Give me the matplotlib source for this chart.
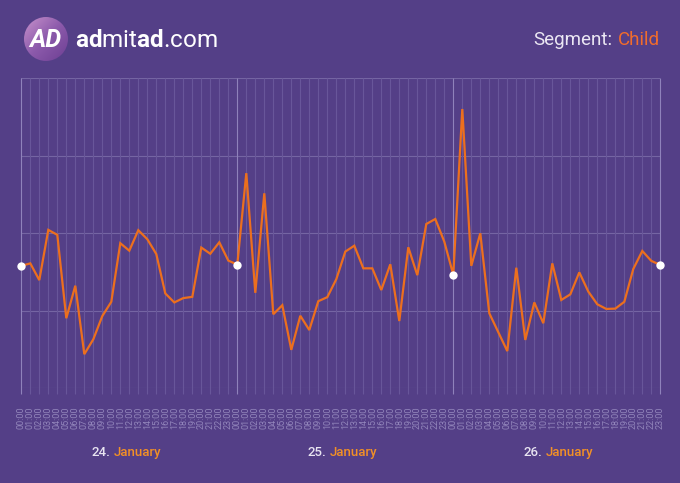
import numpy as np
import matplotlib
matplotlib.use('Agg')
import matplotlib.pyplot as plt
from matplotlib.patches import Circle

W, H = 680, 483
BG = '#543f87'
ORANGE = '#ec6f1e'
plt.rcParams['font.family'] = ['Roboto', 'DejaVu Sans']
plt.rcParams['mathtext.fontset'] = 'custom'
plt.rcParams['mathtext.rm'] = 'Roboto'
plt.rcParams['mathtext.bf'] = 'Roboto:bold'

# hourly values, 24-26 January (arbitrary units, 0..100 axis)
values = [39.5, 40.3, 34.9, 51.1, 49.5, 22.6, 33.1, 11.0, 15.8, 23.3, 27.9, 46.8,
          44.4, 51.0, 48.1, 43.3, 30.6, 27.7, 29.1, 29.5, 45.4, 43.4, 47.1, 41.2,
          39.9, 69.4, 30.8, 62.9, 23.9, 26.8, 12.4, 23.4, 18.8, 28.1, 29.4, 35.2,
          44.1, 46.0, 38.7, 38.7, 31.7, 40.0, 21.7, 45.5, 36.5, 53.0, 54.6, 47.3,
          36.6, 90.1, 39.5, 50.0, 24.2, 18.1, 12.0, 38.9, 15.6, 27.7, 21.0, 40.3,
          28.5, 30.3, 37.4, 31.2, 27.1, 25.6, 25.7, 27.9, 38.5, 44.3, 41.1, 39.8]
hour_labels = [f'{h % 24:02d}:00' for h in range(len(values))]
days = ['24.', '25.', '26.']
month = 'January'
segment = 'Child'
marked = [0, 24, 48, 71]

fig = plt.figure(figsize=(W / 100, H / 100), dpi=100, facecolor=BG)
ax = fig.add_axes([21.3 / W, 1 - 388.3 / H, 639 / W, 310 / H])
ax.set_facecolor(BG)
x = np.arange(len(values))
ax.set_xlim(0, len(values) - 1)
ax.set_ylim(0, 100)

# grid
for yv in [0, 25, 50, 75, 100]:
    ax.axhline(yv, color='#7565a3', lw=0.8, zorder=1)
for i in x:
    c = '#8f82bb' if i in marked else '#68569a'
    ax.vlines(i, -1.7, 100, color=c, lw=0.8, zorder=1, clip_on=False)

ax.plot(x, values, color=ORANGE, lw=1.6, zorder=3, solid_joinstyle='miter')
ax.scatter([x[i] for i in marked], [values[i] for i in marked], s=36, color='white',
           zorder=4, clip_on=False, linewidths=0)

ax.set_xticks(x)
ax.set_xticklabels(hour_labels, rotation=90, fontsize=6.5, color='#9285bb')
ax.tick_params(axis='x', length=0, pad=13)
ax.set_yticks([])
for s in ax.spines.values():
    s.set_visible(False)

renderer = fig.canvas.get_renderer()


def put_pieces(px, py, pieces, align='left', size=10, gap=0):
    # pieces: (text, color, weight); py = baseline, pixels from top
    objs = []
    widths = []
    for s, col, wt in pieces:
        t = fig.text(0, 1 - py / H, s, color=col, fontweight=wt, fontsize=size,
                     va='baseline', ha='left')
        widths.append(t.get_window_extent(renderer).width)
        objs.append(t)
    total = sum(widths) + gap * (len(pieces) - 1)
    start = px if align == 'left' else (px - total if align == 'right' else px - total / 2)
    for t, w in zip(objs, widths):
        t.set_x(start / W)
        start += w + gap


# header
put_pieces(660, 45, [('Segment:', '#ebe7f3', 'normal'), (segment, '#f26c2b', 'normal')],
           align='right', size=13.5, gap=5)
fig.text(75 / W, 1 - 47 / H, r'$\mathbf{ad}$mit$\mathbf{ad}$.com', color='white',
         fontsize=17.5, va='baseline', ha='left')

# logo circle with gradient
lax = fig.add_axes([24 / W, 1 - 61 / H, 44 / W, 44 / H])
lax.axis('off')
g = np.linspace(0, 1, 100)
grad = (g[None, :] + g[:, None]) / 2
im = lax.imshow(grad, cmap=matplotlib.colors.LinearSegmentedColormap.from_list(
    'lg', ['#c892cc', '#8c5aab', '#6d3f93']), extent=(0, 1, 0, 1), origin='upper')
circ = Circle((0.5, 0.5), 0.5, transform=lax.transData)
im.set_clip_path(circ)
lax.set_xlim(0, 1)
lax.set_ylim(0, 1)
fig.text(45 / W, 1 - 47 / H, 'AD', color='white', fontsize=18, fontweight='bold',
         fontstyle='italic', ha='center', va='baseline')

# day labels
for d, name in enumerate(days):
    cx = 21.3 + 9 * (24 * d + 11.7)
    put_pieces(cx, 456, [(name, '#e8e4f1', 'medium'), (month, '#f29026', 'medium')],
               align='center', size=9.5, gap=4)

fig.savefig('out.png', dpi=100, facecolor=BG)
